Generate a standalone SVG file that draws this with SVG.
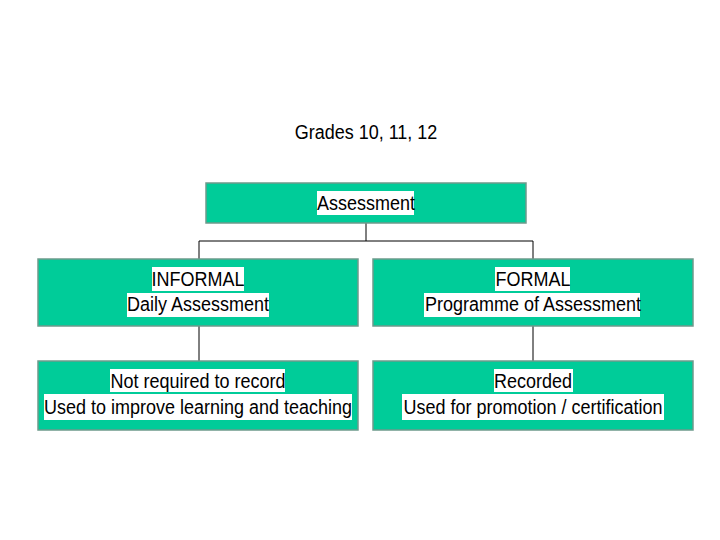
<svg xmlns="http://www.w3.org/2000/svg" width="720" height="540" viewBox="0 0 720 540">
<style>
.box{fill:#00CC99;stroke:#6E9A8C;stroke-width:1.5}
.hl{fill:#FFFFFF}
.t{font-family:"Liberation Sans",Arial,sans-serif;font-size:18px;fill:#000;text-anchor:middle}
.c{stroke:#000;stroke-width:1;fill:none}
</style>
<rect width="720" height="540" fill="#FFFFFF"/>
<g id="title"><text class="t" transform="translate(366,139) scale(1,1.1)">Grades 10, 11, 12</text></g>
<g id="connectors">
<path class="c" d="M366,223 V241" stroke-width="2"/>
<path class="c" d="M199,241 H533 M199,241 V259 M533,241 V259"/>
<path class="c" d="M199,326 V361 M533,326 V361"/>
</g>
<g id="assessment">
<rect class="box" x="206" y="183" width="320" height="40"/>
<rect class="hl" x="317" y="191" width="97" height="24"/>
<text class="t" transform="translate(366,210) scale(1,1.12)">Assessment</text>
</g>
<g id="informal">
<rect class="box" x="38" y="259" width="320" height="67"/>
<rect class="hl" x="152" y="267" width="92" height="24"/>
<rect class="hl" x="127" y="293" width="142" height="24"/>
<text class="t" transform="translate(198,286) scale(1,1.12)">INFORMAL</text>
<text class="t" transform="translate(198,311) scale(1,1.12)">Daily Assessment</text>
</g>
<g id="formal">
<rect class="box" x="373" y="259" width="320" height="67"/>
<rect class="hl" x="495" y="267" width="75" height="24"/>
<rect class="hl" x="424" y="293" width="216" height="24"/>
<text class="t" transform="translate(533,286) scale(1,1.12)">FORMAL</text>
<text class="t" transform="translate(533,311) scale(1,1.12)">Programme of Assessment</text>
</g>
<g id="informal-detail">
<rect class="box" x="38" y="361" width="320" height="69"/>
<rect class="hl" x="110" y="369" width="175" height="23"/>
<rect class="hl" x="44" y="394" width="308" height="26"/>
<text class="t" transform="translate(198,388) scale(1,1.12)">Not required to record</text>
<text class="t" transform="translate(198,414) scale(1,1.12)">Used to improve learning and teaching</text>
</g>
<g id="formal-detail">
<rect class="box" x="373" y="361" width="320" height="69"/>
<rect class="hl" x="494" y="369" width="79" height="23"/>
<rect class="hl" x="402" y="394" width="262" height="26"/>
<text class="t" transform="translate(533,388) scale(1,1.12)">Recorded</text>
<text class="t" transform="translate(533,414) scale(1,1.12)">Used for promotion / certification</text>
</g>
</svg>
